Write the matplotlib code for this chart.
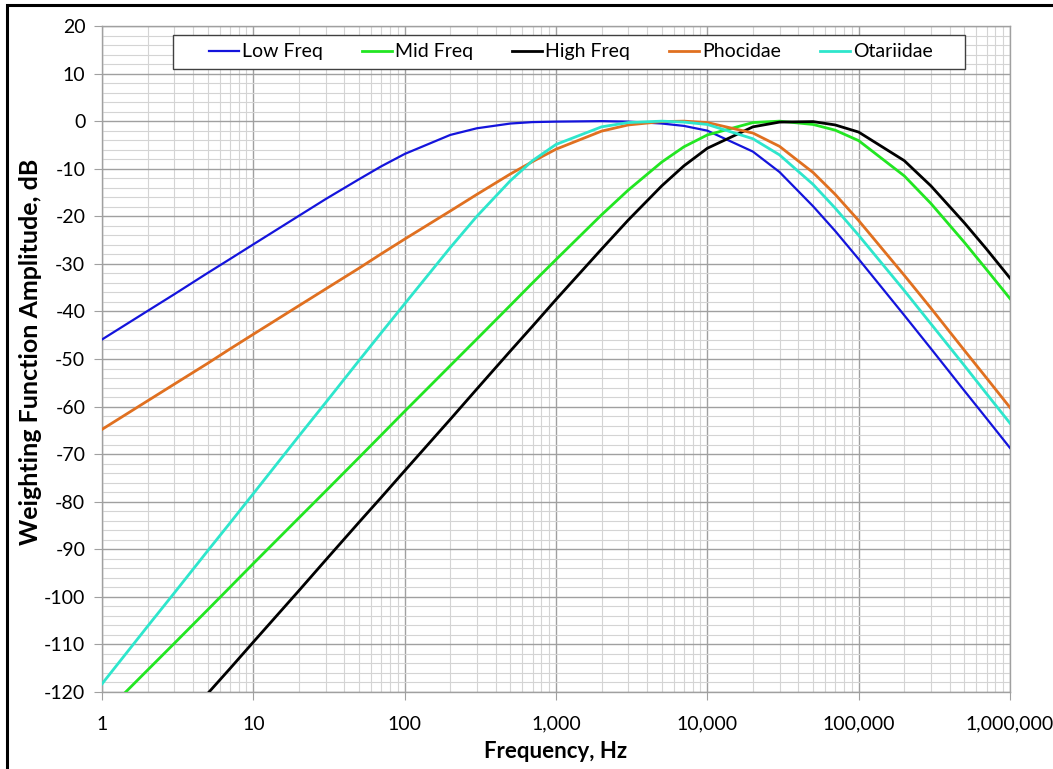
import matplotlib
matplotlib.use('Agg')
import matplotlib.pyplot as plt
from matplotlib.ticker import FixedLocator, LogLocator, NullFormatter, FuncFormatter
from matplotlib.patches import Rectangle

# frequency points (Hz) and weighting values (dB)
freq = [1, 2, 3, 5, 7, 10, 20, 30, 50, 70, 100, 200, 300, 500, 700,
        1000, 2000, 3000, 5000, 7000, 10000, 20000, 30000, 50000, 70000,
        100000, 200000, 300000, 500000, 700000, 1000000]

low_freq = [-45.9, -39.9, -36.4, -31.9, -29.0, -25.9, -19.9, -16.4, -12.2, -9.5,
            -6.9, -2.9, -1.5, -0.5, -0.2, -0.1, 0.0, -0.1, -0.5, -1.0,
            -2.0, -6.4, -10.7, -17.9, -23.1, -29.0, -40.8, -47.8, -56.7, -62.5, -68.7]

mid_freq = [-125.0, -115.4, -109.8, -102.7, -98.0, -93.0, -83.4, -77.8, -70.7, -66.0,
            -61.0, -51.4, -45.8, -38.7, -34.0, -29.1, -19.7, -14.5, -8.6, -5.4,
            -2.9, -0.3, 0.0, -0.7, -1.9, -4.1, -11.5, -17.3, -25.5, -31.2, -37.3]

high_freq = [-145.5, -134.7, -128.3, -120.3, -115.1, -109.5, -98.7, -92.3, -84.3, -79.1,
             -73.5, -62.7, -56.3, -48.3, -43.1, -37.5, -26.9, -20.8, -13.6, -9.4,
             -5.7, -1.2, -0.2, -0.1, -0.8, -2.3, -8.3, -13.6, -21.4, -26.9, -33.0]

phocidae = [-64.8, -58.8, -55.3, -50.9, -47.9, -44.8, -38.8, -35.3, -30.9, -27.9,
            -24.8, -18.9, -15.4, -11.1, -8.5, -5.9, -2.1, -0.8, -0.1, 0.0,
            -0.3, -2.5, -5.3, -10.8, -15.4, -20.9, -32.4, -39.3, -48.2, -54.0, -60.2]

otariidae = [-118.3, -106.2, -99.2, -90.3, -84.5, -78.3, -66.2, -59.2, -50.3, -44.5,
             -38.4, -26.6, -20.0, -12.5, -8.3, -4.9, -1.2, -0.3, 0.0, -0.2,
             -0.7, -3.7, -7.1, -13.3, -18.3, -24.0, -35.6, -42.6, -51.4, -57.3, -63.5]

series_names = ['Low Freq', 'Mid Freq', 'High Freq', 'Phocidae', 'Otariidae']
series_colors = ['#1414dc', '#22e622', '#000000', '#e07020', '#2ee6cc']

plt.rcParams['font.family'] = ['Lato', 'DejaVu Sans']
plt.rcParams['axes.unicode_minus'] = False

fig = plt.figure(figsize=(10.53, 7.69), dpi=100)
ax = fig.add_axes([102 / 1053, 1 - 692 / 769, 908 / 1053, 666 / 769])

all_series = [low_freq, mid_freq, high_freq, phocidae, otariidae]
for vals, name, col in zip(all_series, series_names, series_colors):
    lw = 1.6 if name == 'Low Freq' else 2.0
    ax.plot(freq, vals, color=col, lw=lw, label=name, zorder=3)

ax.set_xscale('log')
ax.set_xlim(1, 1e6)
ax.set_ylim(-120, 20)

ax.xaxis.set_major_locator(FixedLocator([1, 10, 100, 1000, 10000, 100000, 1000000]))
ax.xaxis.set_minor_locator(LogLocator(base=10, subs=range(2, 10)))
ax.xaxis.set_major_formatter(FuncFormatter(lambda v, p: f'{int(round(v)):,}'))
ax.xaxis.set_minor_formatter(NullFormatter())
ax.set_yticks(range(-120, 21, 10))
ax.set_yticks(range(-120, 21, 2), minor=True)

ax.grid(which='major', color='#a0a0a0', lw=1.0, zorder=0)
ax.grid(which='minor', color='#d4d4d4', lw=0.8, zorder=0)
ax.set_axisbelow(True)

for s in ax.spines.values():
    s.set_color('#a0a0a0')
    s.set_linewidth(1.0)

ax.tick_params(axis='both', which='major', direction='out', length=6, color='#a0a0a0',
               labelsize=14, pad=6)
ax.tick_params(axis='x', which='major', pad=11)
ax.tick_params(axis='both', which='minor', length=0)

ax.set_xlabel('Frequency, Hz', fontsize=16, fontweight='bold', labelpad=6)
ax.set_ylabel('Weighting Function Amplitude, dB', fontsize=18, fontweight='bold')
ax.yaxis.set_label_coords(-0.066, 0.51)

# legend box (Excel style, wide side padding)
ax.add_patch(Rectangle((0.0782, 0.9354), 0.8722, 0.0511, transform=ax.transAxes,
                       facecolor='white', edgecolor='#404040', lw=1.0, zorder=4))
leg = ax.legend(loc='center', bbox_to_anchor=(0.5165, 0.961), ncol=5, fontsize=14,
                frameon=False, handlelength=1.55, handletextpad=0.15, columnspacing=2.0,
                borderpad=0)
leg.set_zorder(5)

# outer border like the source document
fig.add_artist(Rectangle((7 / 1053, -0.02), 1.1, 1 - 5 / 769 + 0.02, transform=fig.transFigure,
                         fill=False, edgecolor='black', lw=2.2))

fig.savefig('out.png', dpi=100)
